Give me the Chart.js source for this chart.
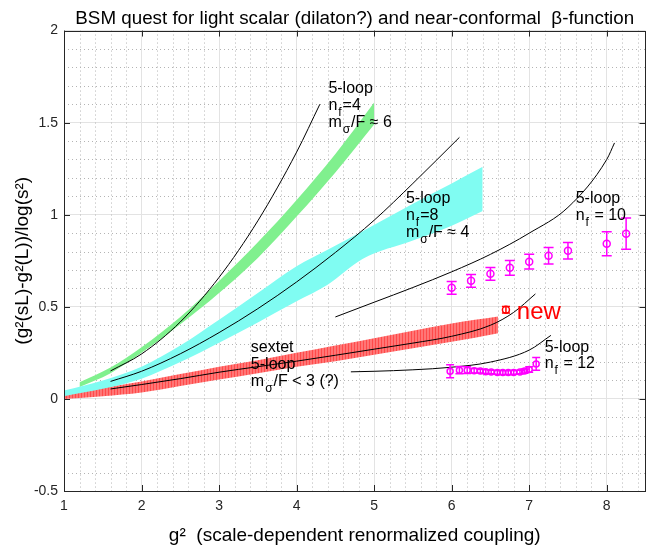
<!DOCTYPE html>
<html>
<head>
<meta charset="utf-8">
<script src="https://cdn.jsdelivr.net/npm/chart.js@4.4.1/dist/chart.umd.min.js"></script>
<style>
  html, body { margin: 0; padding: 0; background: #fff; }
</style>
</head>
<body>
<canvas id="c" width="651" height="549"></canvas>
<script>
// ---- values ----
const xTickValues = [1, 2, 3, 4, 5, 6, 7, 8];
const yTickValues = [-0.5, 0, 0.5, 1, 1.5, 2];

// n_f = 4 band (green)
const nf4BandX  = [1.2, 1.6, 2, 2.5, 3, 3.5, 4, 4.5, 5];
const nf4BandHi = [0.09, 0.17, 0.28, 0.445, 0.64, 0.85, 1.08, 1.33, 1.61];
const nf4BandLo = [0.065, 0.14, 0.25, 0.405, 0.575, 0.765, 0.99, 1.23, 1.49];

// n_f = 8 band (cyan)
const nf8BandX  = [1, 1.5, 2, 2.5, 3, 3.5, 4, 4.4, 4.85, 5.5, 6, 6.4];
const nf8BandHi = [0.045, 0.1, 0.175, 0.29, 0.43, 0.575, 0.72, 0.81, 0.91, 1.06, 1.17, 1.26];
const nf8BandLo = [0.015, 0.055, 0.11, 0.2, 0.305, 0.415, 0.53, 0.62, 0.76, 0.86, 0.94, 1.02];

// sextet band (red)
const sexBandX  = [1, 1.5, 2, 2.5, 3, 3.5, 4, 4.5, 5, 5.5, 6, 6.6];
const sexBandHi = [0.03, 0.06, 0.095, 0.135, 0.175, 0.21, 0.25, 0.29, 0.33, 0.37, 0.41, 0.447];
const sexBandLo = [0.0, 0.015, 0.035, 0.07, 0.105, 0.14, 0.175, 0.205, 0.24, 0.275, 0.31, 0.357];

// 5-loop curves
const loop4X  = [1.6, 2, 2.5, 3, 3.5, 4, 4.3];
const loop4Y  = [0.152, 0.244, 0.418, 0.66, 0.967, 1.34, 1.6];
const loop8X  = [1.6, 2, 2.5, 3, 3.5, 4, 4.5, 5, 5.5, 6.1];
const loop8Y  = [0.095, 0.15, 0.245, 0.36, 0.49, 0.635, 0.795, 0.97, 1.17, 1.42];
const loopSX  = [1.6, 2, 2.5, 3, 3.5, 4, 4.5, 5, 5.5, 6, 6.5, 6.8, 7.08];
const loopSY  = [0.054, 0.078, 0.11, 0.145, 0.175, 0.205, 0.237, 0.27, 0.303, 0.34, 0.4, 0.47, 0.57];
const loop10X = [4.5, 5, 5.5, 6, 6.5, 7, 7.5, 8, 8.1];
const loop10Y = [0.445, 0.525, 0.605, 0.69, 0.785, 0.9, 1.04, 1.3, 1.39];
const loop12X = [4.7, 5, 5.5, 6, 6.5, 7, 7.28];
const loop12Y = [0.147, 0.15, 0.158, 0.172, 0.2, 0.265, 0.345];

// lattice points with errors
const nf10X   = [6, 6.25, 6.5, 6.75, 7, 7.25, 7.5, 8, 8.25];
const nf10Y   = [0.603, 0.641, 0.679, 0.712, 0.745, 0.777, 0.804, 0.842, 0.897];
const nf10Err = [0.035, 0.035, 0.035, 0.04, 0.04, 0.045, 0.045, 0.065, 0.085];
const nf12X   = [5.98, 6.1, 6.2, 6.29, 6.37, 6.44, 6.51, 6.59, 6.66, 6.73, 6.8, 6.88, 6.94, 7.0, 7.09];
const nf12Y   = [0.15, 0.156, 0.156, 0.153, 0.151, 0.148, 0.146, 0.144, 0.143, 0.143, 0.144, 0.146, 0.151, 0.16, 0.19];
const nf12Err = [0.035, 0.02, 0.018, 0.012, 0.01, 0.01, 0.01, 0.01, 0.01, 0.01, 0.01, 0.01, 0.012, 0.015, 0.035];
const newX    = [6.7];
const newY    = [0.484];
const newErr  = [0.018];

const pts = (xs, ys) => xs.map((v, i) => ({x: v, y: ys[i]}));

const FONT = '"Liberation Sans", Arial, Helvetica, sans-serif';
Chart.defaults.font.family = FONT;
Chart.defaults.color = '#262626';

const canvas = document.getElementById('c');
const ctx0 = canvas.getContext('2d');

// red band has fine vertical hatching
const tile = document.createElement('canvas');
tile.width = 3; tile.height = 4;
const tg = tile.getContext('2d');
tg.fillStyle = '#ff7676'; tg.fillRect(0, 0, 3, 4);
tg.fillStyle = '#ff4a4a'; tg.fillRect(0, 0, 1, 4);
const redHatch = ctx0.createPattern(tile, 'repeat');

// text labels inside the plot (data coords of first baseline)
const notes = [
  {x: 4.41, y: 1.663, color: '#000', size: 16, lead: 17, lines: [['5-loop'], ['n', '_f', '=4'], ['m', '_σ', '/F ≈ 6']]},
  {x: 5.41, y: 1.065, color: '#000', size: 16, lead: 17, lines: [['5-loop'], ['n', '_f', '=8'], ['m', '_σ', '/F ≈ 4']]},
  {x: 7.6,  y: 1.065, color: '#000', size: 16, lead: 17, lines: [['5-loop'], ['n', '_f', ' = 10']]},
  {x: 3.41, y: 0.255, color: '#000', size: 16, lead: 17, lines: [['sextet'], ['5-loop'], ['m', '_σ', '/F < 3 (?)']]},
  {x: 7.2,  y: 0.257, color: '#000', size: 16, lead: 16, lines: [['5-loop'], ['n', '_f', ' = 12']]},
  {x: 6.84, y: 0.432, color: '#ff0000', size: 24, lead: 0, lines: [['new']]}
];

const errorSets = [
  {xs: nf10X, ys: nf10Y, es: nf10Err, color: '#ff00ff', cap: 5},
  {xs: nf12X, ys: nf12Y, es: nf12Err, color: '#ff00ff', cap: 4},
  {xs: newX, ys: newY, es: newErr, color: '#ff0000', cap: 4}
];

const decor = {
  id: 'decor',
  beforeDatasetsDraw(chart) {
    const {ctx, chartArea: a, scales: {x, y}} = chart;
    ctx.save();
    ctx.strokeStyle = '#b4b4b4';
    ctx.lineWidth = 1;
    ctx.setLineDash([1, 3]);
    ctx.beginPath();
    for (let i = 1; i < 38; i++) {
      if (i % 5 === 0) continue;
      const px = Math.round(x.getPixelForValue(1 + i * 0.2)) + 0.5;
      ctx.moveTo(px, a.top); ctx.lineTo(px, a.bottom);
    }
    for (let i = 1; i < 25; i++) {
      if (i % 5 === 0) continue;
      const py = Math.round(y.getPixelForValue(-0.5 + i * 0.1)) + 0.5;
      ctx.moveTo(a.left, py); ctx.lineTo(a.right, py);
    }
    ctx.stroke();
    ctx.restore();
  },
  afterDatasetsDraw(chart) {
    const {ctx, chartArea: a, scales: {x, y}} = chart;
    ctx.save();
    // error bars
    errorSets.forEach(s => {
      ctx.strokeStyle = s.color;
      ctx.lineWidth = 1.5;
      ctx.beginPath();
      s.xs.forEach((v, i) => {
        const px = x.getPixelForValue(v);
        const t = y.getPixelForValue(s.ys[i] + s.es[i]);
        const b = y.getPixelForValue(s.ys[i] - s.es[i]);
        ctx.moveTo(px, t); ctx.lineTo(px, b);
        ctx.moveTo(px - s.cap, t); ctx.lineTo(px + s.cap, t);
        ctx.moveTo(px - s.cap, b); ctx.lineTo(px + s.cap, b);
      });
      ctx.stroke();
    });
    // text notes
    ctx.textBaseline = 'alphabetic';
    ctx.textAlign = 'left';
    notes.forEach(n => {
      const bx = x.getPixelForValue(n.x);
      const by = y.getPixelForValue(n.y);
      ctx.fillStyle = n.color;
      n.lines.forEach((parts, li) => {
        let cx = bx;
        const ly = by + li * n.lead;
        parts.forEach(p => {
          const sub = p[0] === '_';
          const t = sub ? p.slice(1) : p;
          ctx.font = (sub ? Math.round(n.size * 0.72) : n.size) + 'px ' + FONT;
          ctx.fillText(t, cx + (sub ? 1 : 0), ly + (sub ? Math.round(n.size * 0.38) : 0));
          cx += ctx.measureText(t).width + (sub ? 2 : 0);
        });
      });
    });
    // box and inward ticks
    ctx.strokeStyle = '#262626';
    ctx.lineWidth = 1;
    ctx.strokeRect(Math.round(a.left) + 0.5, Math.round(a.top) + 0.5, Math.round(a.right - a.left) - 1, Math.round(a.bottom - a.top));
    ctx.beginPath();
    xTickValues.forEach(v => {
      const px = Math.round(x.getPixelForValue(v)) + 0.5;
      ctx.moveTo(px, a.bottom); ctx.lineTo(px, a.bottom - 6);
      ctx.moveTo(px, a.top); ctx.lineTo(px, a.top + 6);
    });
    yTickValues.forEach(v => {
      const py = Math.round(y.getPixelForValue(v)) + 0.5;
      ctx.moveTo(a.left, py); ctx.lineTo(a.left + 6, py);
      ctx.moveTo(a.right, py); ctx.lineTo(a.right - 6, py);
    });
    ctx.stroke();
    ctx.restore();
  }
};

const band = (xs, lo, hi, color) => [
  {data: pts(xs, lo), borderWidth: 0, pointRadius: 0, fill: false, order: 3, cubicInterpolationMode: 'monotone'},
  {data: pts(xs, hi), borderWidth: 0, pointRadius: 0, fill: '-1', backgroundColor: color, order: 3, cubicInterpolationMode: 'monotone'}
];
const curve = (xs, ys) => ({data: pts(xs, ys), borderColor: '#000', borderWidth: 1, pointRadius: 0,
  fill: false, cubicInterpolationMode: 'monotone', order: 2});
const marks = (xs, ys, color, r) => ({data: pts(xs, ys), showLine: false, pointRadius: r,
  pointBorderColor: color, pointBackgroundColor: 'rgba(0,0,0,0)', pointBorderWidth: 1.5, order: 1});

new Chart(canvas, {
  type: 'line',
  data: {
    datasets: [
      ...band(nf8BandX, nf8BandLo, nf8BandHi, '#80fcf2'),
      ...band(nf4BandX, nf4BandLo, nf4BandHi, '#80f08e'),
      ...band(sexBandX, sexBandLo, sexBandHi, redHatch),
      curve(loop4X, loop4Y),
      curve(loop8X, loop8Y),
      curve(loopSX, loopSY),
      curve(loop10X, loop10Y),
      curve(loop12X, loop12Y),
      marks(nf10X, nf10Y, '#ff00ff', 3.5),
      marks(nf12X, nf12Y, '#ff00ff', 3),
      marks(newX, newY, '#ff0000', 3.5)
    ]
  },
  options: {
    responsive: false,
    animation: false,
    layout: {padding: {left: 0, right: 2, top: 0, bottom: 0}},
    plugins: {
      legend: {display: false},
      tooltip: {enabled: false},
      title: {
        display: true,
        fullSize: false,
        text: 'BSM quest for light scalar (dilaton?) and near-conformal  β-function',
        color: '#000',
        font: {size: 18.8, weight: 'normal'},
        padding: {top: 8, bottom: 0}
      }
    },
    scales: {
      x: {
        type: 'linear', min: 1, max: 8.5,
        afterBuildTicks: s => { s.ticks = xTickValues.map(v => ({value: v})); },
        afterFit: s => { s.height = 58; },
        ticks: {font: {size: 14}, padding: 7, maxRotation: 0, callback: v => String(v)},
        grid: {color: '#e3e3e3', drawTicks: false},
        border: {display: false},
        title: {display: true, text: 'g²  (scale-dependent renormalized coupling)', color: '#000',
          font: {size: 19}, padding: {top: 0, bottom: 2}}
      },
      y: {
        type: 'linear', min: -0.5, max: 2,
        afterBuildTicks: s => { s.ticks = yTickValues.map(v => ({value: v})); },
        afterFit: s => { s.width = 64; },
        ticks: {font: {size: 14}, padding: 6, callback: v => String(v)},
        grid: {color: '#e3e3e3', drawTicks: false},
        border: {display: false},
        title: {display: true, text: '(g²(sL)-g²(L))/log(s²)', color: '#000',
          font: {size: 19}, padding: {top: 11, bottom: 0}}
      }
    }
  },
  plugins: [decor]
});
</script>
</body>
</html>
